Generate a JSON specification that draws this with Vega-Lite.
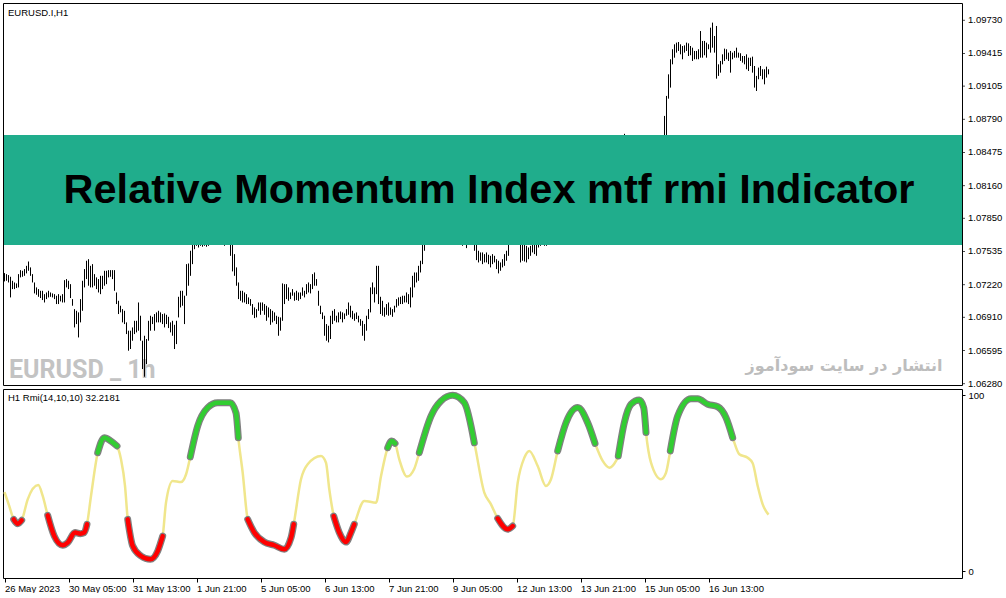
{
  "$schema": "https://vega.github.io/schema/vega-lite/v6.json",
  "background": "white",
  "padding": {"left": 2, "top": 2, "right": 0, "bottom": 0},
  "spacing": 4,
  "bounds": "flush",
  "config": {
    "view": {"stroke": "black", "strokeWidth": 1},
    "font": "Liberation Sans",
    "axis": {
      "labelFont": "Liberation Sans",
      "labelFontSize": 9.5,
      "labelColor": "black",
      "tickColor": "black",
      "domain": false,
      "grid": false,
      "title": null,
      "tickSize": 3,
      "labelPadding": 3,
      "labelOverlap": false
    }
  },
  "datasets": {
    "bars": [
      {"i":0,"h":1.0733,"l":1.07251},{"i":1,"h":1.0732,"l":1.07257},{"i":2,"h":1.07311,"l":1.07241},{"i":3,"h":1.07295,"l":1.07099},
      {"i":4,"h":1.07257,"l":1.07178},{"i":5,"h":1.07241,"l":1.07178},{"i":6,"h":1.07232,"l":1.07188},{"i":7,"h":1.0732,"l":1.07194},
      {"i":8,"h":1.07358,"l":1.07289},{"i":9,"h":1.07352,"l":1.07295},{"i":10,"h":1.07368,"l":1.07304},{"i":11,"h":1.07399,"l":1.07327},
      {"i":12,"h":1.0744,"l":1.07352},{"i":13,"h":1.07384,"l":1.07304},{"i":14,"h":1.0732,"l":1.07241},{"i":15,"h":1.07241,"l":1.07137},
      {"i":16,"h":1.07194,"l":1.07124},{"i":17,"h":1.07178,"l":1.07105},{"i":18,"h":1.07162,"l":1.07093},{"i":19,"h":1.07162,"l":1.07074},
      {"i":20,"h":1.0713,"l":1.07051},{"i":21,"h":1.07146,"l":1.07083},{"i":22,"h":1.07162,"l":1.07099},{"i":23,"h":1.07146,"l":1.07105},
      {"i":24,"h":1.07137,"l":1.07099},{"i":25,"h":1.0713,"l":1.07083},{"i":26,"h":1.07115,"l":1.07036},{"i":27,"h":1.0713,"l":1.07036},
      {"i":28,"h":1.07115,"l":1.07061},{"i":29,"h":1.0713,"l":1.07051},{"i":30,"h":1.07263,"l":1.07051},{"i":31,"h":1.07273,"l":1.07194},
      {"i":32,"h":1.07257,"l":1.07178},{"i":33,"h":1.07225,"l":1.07093},{"i":34,"h":1.07083,"l":1.0702},{"i":35,"h":1.06988,"l":1.06814},
      {"i":36,"h":1.06972,"l":1.06846},{"i":37,"h":1.06957,"l":1.06719},{"i":38,"h":1.07083,"l":1.06862},{"i":39,"h":1.07257,"l":1.06972},
      {"i":40,"h":1.07368,"l":1.07194},{"i":41,"h":1.07447,"l":1.07273},{"i":42,"h":1.07462,"l":1.0721},{"i":43,"h":1.07399,"l":1.07194},
      {"i":44,"h":1.07415,"l":1.07194},{"i":45,"h":1.0732,"l":1.0721},{"i":46,"h":1.07289,"l":1.07178},{"i":47,"h":1.07273,"l":1.07146},
      {"i":48,"h":1.07304,"l":1.0713},{"i":49,"h":1.07304,"l":1.07178},{"i":50,"h":1.07352,"l":1.0721},{"i":51,"h":1.07352,"l":1.07225},
      {"i":52,"h":1.07358,"l":1.07289},{"i":53,"h":1.07358,"l":1.07295},{"i":54,"h":1.07358,"l":1.07273},{"i":55,"h":1.07358,"l":1.07162},
      {"i":56,"h":1.07146,"l":1.07036},{"i":57,"h":1.07067,"l":1.06941},{"i":58,"h":1.0702,"l":1.06957},{"i":59,"h":1.06988,"l":1.06862},
      {"i":60,"h":1.06972,"l":1.06846},{"i":61,"h":1.06862,"l":1.06751},{"i":62,"h":1.06783,"l":1.06593},{"i":63,"h":1.06783,"l":1.06609},
      {"i":64,"h":1.06814,"l":1.06688},{"i":65,"h":1.06877,"l":1.06751},{"i":66,"h":1.06877,"l":1.06767},{"i":67,"h":1.07051,"l":1.06783},
      {"i":68,"h":1.06925,"l":1.06688},{"i":69,"h":1.06688,"l":1.06419},{"i":70,"h":1.06735,"l":1.06346},{"i":71,"h":1.06704,"l":1.06466},
      {"i":72,"h":1.06877,"l":1.06688},{"i":73,"h":1.06925,"l":1.06783},{"i":74,"h":1.06915,"l":1.06846},{"i":75,"h":1.06941,"l":1.06783},
      {"i":76,"h":1.06957,"l":1.06862},{"i":77,"h":1.06972,"l":1.06862},{"i":78,"h":1.06957,"l":1.06862},{"i":79,"h":1.06941,"l":1.06846},
      {"i":80,"h":1.06947,"l":1.06814},{"i":81,"h":1.06934,"l":1.06846},{"i":82,"h":1.06915,"l":1.06808},{"i":83,"h":1.06862,"l":1.06767},
      {"i":84,"h":1.06877,"l":1.06735},{"i":85,"h":1.06839,"l":1.06609},{"i":86,"h":1.06877,"l":1.06656},{"i":87,"h":1.07105,"l":1.06909},
      {"i":88,"h":1.07162,"l":1.07004},{"i":89,"h":1.07162,"l":1.0702},{"i":90,"h":1.07115,"l":1.06846},{"i":91,"h":1.07415,"l":1.07115},
      {"i":92,"h":1.07421,"l":1.0721},{"i":93,"h":1.07542,"l":1.07304},{"i":94,"h":1.07668,"l":1.07415},{"i":95,"h":1.077,"l":1.07557},
      {"i":96,"h":1.07731,"l":1.07589},{"i":97,"h":1.07716,"l":1.07573},{"i":98,"h":1.07731,"l":1.07589},{"i":99,"h":1.077,"l":1.0758},
      {"i":100,"h":1.07747,"l":1.07589},{"i":101,"h":1.07731,"l":1.0758},{"i":102,"h":1.07763,"l":1.07589},{"i":103,"h":1.07779,"l":1.07611},
      {"i":104,"h":1.07795,"l":1.07621},{"i":105,"h":1.0781,"l":1.07637},{"i":106,"h":1.07795,"l":1.07621},{"i":107,"h":1.07779,"l":1.07621},
      {"i":108,"h":1.07763,"l":1.07611},{"i":109,"h":1.07747,"l":1.07599},{"i":110,"h":1.07731,"l":1.07589},{"i":111,"h":1.07763,"l":1.07621},
      {"i":112,"h":1.07779,"l":1.07611},{"i":113,"h":1.07731,"l":1.07494},{"i":114,"h":1.07605,"l":1.07346},{"i":115,"h":1.0751,"l":1.07304},
      {"i":116,"h":1.07384,"l":1.0721},{"i":117,"h":1.07241,"l":1.07083},{"i":118,"h":1.07162,"l":1.07067},{"i":119,"h":1.07162,"l":1.07051},
      {"i":120,"h":1.07146,"l":1.07051},{"i":121,"h":1.0713,"l":1.07036},{"i":122,"h":1.07099,"l":1.07036},{"i":123,"h":1.07083,"l":1.0702},
      {"i":124,"h":1.07036,"l":1.06934},{"i":125,"h":1.07004,"l":1.06903},{"i":126,"h":1.06988,"l":1.06909},{"i":127,"h":1.07051,"l":1.06972},
      {"i":128,"h":1.07051,"l":1.06934},{"i":129,"h":1.07051,"l":1.06972},{"i":130,"h":1.07036,"l":1.06934},{"i":131,"h":1.0702,"l":1.06877},
      {"i":132,"h":1.07004,"l":1.06909},{"i":133,"h":1.06988,"l":1.06839},{"i":134,"h":1.06972,"l":1.06862},{"i":135,"h":1.06957,"l":1.06877},
      {"i":136,"h":1.06925,"l":1.06846},{"i":137,"h":1.06915,"l":1.06735},{"i":138,"h":1.06909,"l":1.06783},{"i":139,"h":1.07232,"l":1.06877},
      {"i":140,"h":1.07225,"l":1.07036},{"i":141,"h":1.07225,"l":1.07083},{"i":142,"h":1.07194,"l":1.07067},{"i":143,"h":1.07146,"l":1.07083},
      {"i":144,"h":1.07178,"l":1.07115},{"i":145,"h":1.07146,"l":1.07067},{"i":146,"h":1.07162,"l":1.07074},{"i":147,"h":1.07146,"l":1.07067},
      {"i":148,"h":1.07146,"l":1.07083},{"i":149,"h":1.07194,"l":1.07115},{"i":150,"h":1.07162,"l":1.07099},{"i":151,"h":1.07225,"l":1.0713},
      {"i":152,"h":1.07241,"l":1.07146},{"i":153,"h":1.07225,"l":1.07137},{"i":154,"h":1.0732,"l":1.07178},{"i":155,"h":1.07336,"l":1.0721},
      {"i":156,"h":1.07273,"l":1.0721},{"i":157,"h":1.07162,"l":1.0702},{"i":158,"h":1.0702,"l":1.06941},{"i":159,"h":1.06957,"l":1.06893},
      {"i":160,"h":1.06925,"l":1.06735},{"i":161,"h":1.06846,"l":1.06688},{"i":162,"h":1.0683,"l":1.06672},{"i":163,"h":1.06925,"l":1.06704},
      {"i":164,"h":1.06972,"l":1.06846},{"i":165,"h":1.06988,"l":1.06877},{"i":166,"h":1.06925,"l":1.06862},{"i":167,"h":1.06957,"l":1.06862},
      {"i":168,"h":1.06966,"l":1.06893},{"i":169,"h":1.06957,"l":1.06862},{"i":170,"h":1.06947,"l":1.06893},{"i":171,"h":1.06988,"l":1.06925},
      {"i":172,"h":1.07051,"l":1.06934},{"i":173,"h":1.0702,"l":1.06909},{"i":174,"h":1.06972,"l":1.06893},{"i":175,"h":1.06947,"l":1.06877},
      {"i":176,"h":1.06957,"l":1.06893},{"i":177,"h":1.06925,"l":1.06862},{"i":178,"h":1.06893,"l":1.0683},{"i":179,"h":1.06877,"l":1.06735},
      {"i":180,"h":1.06846,"l":1.06688},{"i":181,"h":1.06925,"l":1.06783},{"i":182,"h":1.06988,"l":1.06893},{"i":183,"h":1.07194,"l":1.06957},
      {"i":184,"h":1.07241,"l":1.0713},{"i":185,"h":1.07194,"l":1.07051},{"i":186,"h":1.07399,"l":1.0713},{"i":187,"h":1.07399,"l":1.07036},
      {"i":188,"h":1.07105,"l":1.06941},{"i":189,"h":1.07067,"l":1.06925},{"i":190,"h":1.07004,"l":1.06915},{"i":191,"h":1.07036,"l":1.06934},
      {"i":192,"h":1.07051,"l":1.06925},{"i":193,"h":1.07004,"l":1.06934},{"i":194,"h":1.06988,"l":1.06915},{"i":195,"h":1.0702,"l":1.06957},
      {"i":196,"h":1.07083,"l":1.07004},{"i":197,"h":1.07099,"l":1.0702},{"i":198,"h":1.07105,"l":1.07036},{"i":199,"h":1.07115,"l":1.07036},
      {"i":200,"h":1.07115,"l":1.07051},{"i":201,"h":1.07146,"l":1.07051},{"i":202,"h":1.0713,"l":1.07036},{"i":203,"h":1.07194,"l":1.07004},
      {"i":204,"h":1.07304,"l":1.07099},{"i":205,"h":1.07336,"l":1.07194},{"i":206,"h":1.07336,"l":1.07241},{"i":207,"h":1.07399,"l":1.07257},
      {"i":208,"h":1.07447,"l":1.07336},{"i":209,"h":1.07668,"l":1.07415},{"i":210,"h":1.07731,"l":1.07542},{"i":211,"h":1.0778,"l":1.0764},
      {"i":212,"h":1.0782,"l":1.077},{"i":213,"h":1.0785,"l":1.0774},{"i":214,"h":1.0788,"l":1.0776},{"i":215,"h":1.0791,"l":1.078},
      {"i":216,"h":1.0795,"l":1.0783},{"i":217,"h":1.0794,"l":1.0785},{"i":218,"h":1.0798,"l":1.0787},{"i":219,"h":1.0801,"l":1.079},
      {"i":220,"h":1.08,"l":1.0788},{"i":221,"h":1.0804,"l":1.0792},{"i":222,"h":1.0802,"l":1.0791},{"i":223,"h":1.0806,"l":1.0793},
      {"i":224,"h":1.0805,"l":1.079},{"i":225,"h":1.0801,"l":1.0784},{"i":226,"h":1.0795,"l":1.0776},{"i":227,"h":1.0788,"l":1.0768},
      {"i":228,"h":1.0782,"l":1.0764},{"i":229,"h":1.0776,"l":1.07589},{"i":230,"h":1.0772,"l":1.07599},{"i":231,"h":1.0774,"l":1.07567},
      {"i":232,"h":1.0778,"l":1.0764},{"i":233,"h":1.078,"l":1.0766},{"i":234,"h":1.0776,"l":1.0762},{"i":235,"h":1.0772,"l":1.07542},
      {"i":236,"h":1.0768,"l":1.07453},{"i":237,"h":1.07542,"l":1.07431},{"i":238,"h":1.07526,"l":1.07447},{"i":239,"h":1.07526,"l":1.07415},
      {"i":240,"h":1.0751,"l":1.07431},{"i":241,"h":1.07526,"l":1.07431},{"i":242,"h":1.07504,"l":1.07415},{"i":243,"h":1.07494,"l":1.07384},
      {"i":244,"h":1.0751,"l":1.07415},{"i":245,"h":1.07494,"l":1.07431},{"i":246,"h":1.07462,"l":1.07368},{"i":247,"h":1.07447,"l":1.07327},
      {"i":248,"h":1.07431,"l":1.07352},{"i":249,"h":1.07462,"l":1.07384},{"i":250,"h":1.0751,"l":1.07399},{"i":251,"h":1.07542,"l":1.07447},
      {"i":252,"h":1.0768,"l":1.07494},{"i":253,"h":1.0772,"l":1.0761},{"i":254,"h":1.0776,"l":1.0764},{"i":255,"h":1.0774,"l":1.0762},
      {"i":256,"h":1.0778,"l":1.0765},{"i":257,"h":1.0776,"l":1.0761},{"i":258,"h":1.077,"l":1.07431},{"i":259,"h":1.0769,"l":1.07447},
      {"i":260,"h":1.0768,"l":1.0744},{"i":261,"h":1.07589,"l":1.07431},{"i":262,"h":1.07573,"l":1.07462},{"i":263,"h":1.07589,"l":1.07494},
      {"i":264,"h":1.0766,"l":1.07526},{"i":265,"h":1.077,"l":1.0751},{"i":266,"h":1.0772,"l":1.07494},{"i":267,"h":1.0774,"l":1.07573},
      {"i":268,"h":1.0768,"l":1.07589},{"i":269,"h":1.0769,"l":1.07599},{"i":270,"h":1.077,"l":1.07589},{"i":271,"h":1.0771,"l":1.07589},
      {"i":272,"h":1.0772,"l":1.0762},{"i":273,"h":1.0775,"l":1.0764},{"i":274,"h":1.078,"l":1.0768},{"i":275,"h":1.0785,"l":1.0772},
      {"i":276,"h":1.079,"l":1.0778},{"i":277,"h":1.0796,"l":1.0784},{"i":278,"h":1.08,"l":1.0789},{"i":279,"h":1.0805,"l":1.0793},
      {"i":280,"h":1.0808,"l":1.0797},{"i":281,"h":1.0812,"l":1.08},{"i":282,"h":1.0815,"l":1.0804},{"i":283,"h":1.0814,"l":1.0805},
      {"i":284,"h":1.0818,"l":1.0807},{"i":285,"h":1.082,"l":1.0809},{"i":286,"h":1.0823,"l":1.0812},{"i":287,"h":1.0821,"l":1.081},
      {"i":288,"h":1.0819,"l":1.0808},{"i":289,"h":1.0815,"l":1.0804},{"i":290,"h":1.0812,"l":1.0801},{"i":291,"h":1.081,"l":1.0799},
      {"i":292,"h":1.0808,"l":1.0796},{"i":293,"h":1.0806,"l":1.0794},{"i":294,"h":1.0804,"l":1.0792},{"i":295,"h":1.0807,"l":1.0795},
      {"i":296,"h":1.0805,"l":1.0794},{"i":297,"h":1.0803,"l":1.0791},{"i":298,"h":1.0806,"l":1.0795},{"i":299,"h":1.0809,"l":1.0798},
      {"i":300,"h":1.0807,"l":1.0796},{"i":301,"h":1.081,"l":1.0799},{"i":302,"h":1.0813,"l":1.0802},{"i":303,"h":1.0818,"l":1.0806},
      {"i":304,"h":1.0823,"l":1.0811},{"i":305,"h":1.0829,"l":1.0816},{"i":306,"h":1.0835,"l":1.0822},{"i":307,"h":1.084,"l":1.0828},
      {"i":308,"h":1.0845,"l":1.0833},{"i":309,"h":1.085,"l":1.0838},{"i":310,"h":1.08652,"l":1.0842},{"i":311,"h":1.0856,"l":1.0844},
      {"i":312,"h":1.0858,"l":1.0847},{"i":313,"h":1.0856,"l":1.0845},{"i":314,"h":1.086,"l":1.0848},{"i":315,"h":1.0859,"l":1.0847},
      {"i":316,"h":1.0861,"l":1.0849},{"i":317,"h":1.0859,"l":1.0846},{"i":318,"h":1.0856,"l":1.0843},{"i":319,"h":1.0852,"l":1.0839},
      {"i":320,"h":1.0848,"l":1.0835},{"i":321,"h":1.0844,"l":1.0832},{"i":322,"h":1.084,"l":1.0829},{"i":323,"h":1.0838,"l":1.0826},
      {"i":324,"h":1.0835,"l":1.0824},{"i":325,"h":1.0833,"l":1.0822},{"i":326,"h":1.0836,"l":1.0825},{"i":327,"h":1.0834,"l":1.0823},
      {"i":328,"h":1.0838,"l":1.0826},{"i":329,"h":1.0842,"l":1.083},{"i":330,"h":1.08822,"l":1.0842},{"i":331,"h":1.09012,"l":1.0856},
      {"i":332,"h":1.09217,"l":1.08986},{"i":333,"h":1.0936,"l":1.09091},{"i":334,"h":1.09455,"l":1.09312},{"i":335,"h":1.09502,"l":1.09375},
      {"i":336,"h":1.09518,"l":1.09423},{"i":337,"h":1.09524,"l":1.09439},{"i":338,"h":1.09502,"l":1.09407},{"i":339,"h":1.09486,"l":1.0936},
      {"i":340,"h":1.09492,"l":1.09423},{"i":341,"h":1.09518,"l":1.09439},{"i":342,"h":1.09511,"l":1.09391},{"i":343,"h":1.09486,"l":1.09398},
      {"i":344,"h":1.0947,"l":1.09344},{"i":345,"h":1.09439,"l":1.0936},{"i":346,"h":1.09439,"l":1.0936},{"i":347,"h":1.09455,"l":1.0936},
      {"i":348,"h":1.09628,"l":1.09375},{"i":349,"h":1.09534,"l":1.09375},{"i":350,"h":1.09534,"l":1.09398},{"i":351,"h":1.09518,"l":1.09375},
      {"i":352,"h":1.09502,"l":1.09455},{"i":353,"h":1.0966,"l":1.09423},{"i":354,"h":1.09708,"l":1.0947},{"i":355,"h":1.09581,"l":1.09423},
      {"i":356,"h":1.09676,"l":1.09176},{"i":357,"h":1.09312,"l":1.09202},{"i":358,"h":1.09344,"l":1.09233},{"i":359,"h":1.09407,"l":1.09312},
      {"i":360,"h":1.09461,"l":1.09344},{"i":361,"h":1.09455,"l":1.0936},{"i":362,"h":1.09423,"l":1.09344},{"i":363,"h":1.09439,"l":1.09233},
      {"i":364,"h":1.09423,"l":1.0936},{"i":365,"h":1.09439,"l":1.09375},{"i":366,"h":1.0947,"l":1.09375},{"i":367,"h":1.09423,"l":1.09375},
      {"i":368,"h":1.09417,"l":1.09344},{"i":369,"h":1.09391,"l":1.09328},{"i":370,"h":1.09391,"l":1.09312},{"i":371,"h":1.09407,"l":1.09265},
      {"i":372,"h":1.09375,"l":1.09249},{"i":373,"h":1.09375,"l":1.09296},{"i":374,"h":1.09385,"l":1.09233},{"i":375,"h":1.09296,"l":1.09091},
      {"i":376,"h":1.09202,"l":1.09059},{"i":377,"h":1.09281,"l":1.0917},{"i":378,"h":1.09296,"l":1.09202},{"i":379,"h":1.09265,"l":1.0917},
      {"i":380,"h":1.09265,"l":1.09122},{"i":381,"h":1.0929,"l":1.09186},{"i":382,"h":1.09265,"l":1.09217}
    ],
    "rmi": [
      {"i":0,"v":45,"zone":"mid","seg":"m"},{"i":2.4,"v":37,"zone":"mid","seg":"m"},
      {"i":4.6,"v":29.5,"zone":"under","seg":"r1"},{"i":6.6,"v":27,"zone":"under","seg":"r1"},{"i":8.6,"v":29,"zone":"under","seg":"r1"},
      {"i":11.6,"v":40.9,"zone":"mid","seg":"m"},{"i":16.9,"v":49,"zone":"mid","seg":"m"},{"i":19.1,"v":42.8,"zone":"mid","seg":"m"},
      {"i":21.6,"v":31.8,"zone":"under","seg":"r2"},{"i":24.9,"v":20,"zone":"under","seg":"r2"},{"i":29.1,"v":14.8,"zone":"under","seg":"r2"},
      {"i":31.6,"v":16.3,"zone":"under","seg":"r2"},{"i":35.25,"v":22,"zone":"under","seg":"r2"},{"i":37.9,"v":21.4,"zone":"under","seg":"r2"},
      {"i":39.9,"v":22,"zone":"under","seg":"r2"},{"i":41.25,"v":26.7,"zone":"under","seg":"r2"},
      {"i":43.25,"v":42.8,"zone":"mid","seg":"m"},
      {"i":46.6,"v":67.4,"zone":"over","seg":"g1"},{"i":49.9,"v":75.9,"zone":"over","seg":"g1"},{"i":53.25,"v":74,"zone":"over","seg":"g1"},{"i":56.25,"v":71.2,"zone":"over","seg":"g1"},
      {"i":58.25,"v":63.6,"zone":"mid","seg":"m"},{"i":60.25,"v":48.5,"zone":"mid","seg":"m"},
      {"i":61.6,"v":29.5,"zone":"under","seg":"r3"},{"i":64.1,"v":14.4,"zone":"under","seg":"r3"},{"i":68.25,"v":8.7,"zone":"under","seg":"r3"},
      {"i":72.9,"v":6.8,"zone":"under","seg":"r3"},{"i":76.6,"v":11.5,"zone":"under","seg":"r3"},{"i":79.1,"v":20,"zone":"under","seg":"r3"},
      {"i":80.75,"v":39,"zone":"mid","seg":"m"},{"i":84.1,"v":51.3,"zone":"mid","seg":"m"},{"i":88.25,"v":50.7,"zone":"mid","seg":"m"},{"i":90.75,"v":55,"zone":"mid","seg":"m"},
      {"i":92.9,"v":65,"zone":"over","seg":"g2"},{"i":96.6,"v":82.6,"zone":"over","seg":"g2"},{"i":101.6,"v":93,"zone":"over","seg":"g2"},
      {"i":106.6,"v":95.8,"zone":"over","seg":"g2"},{"i":112.9,"v":95.8,"zone":"over","seg":"g2"},{"i":115.75,"v":90,"zone":"over","seg":"g2"},{"i":116.9,"v":75.9,"zone":"over","seg":"g2"},
      {"i":119.1,"v":56,"zone":"mid","seg":"m"},
      {"i":121.6,"v":29.5,"zone":"under","seg":"r4"},{"i":124.9,"v":22,"zone":"under","seg":"r4"},{"i":129.9,"v":16.6,"zone":"under","seg":"r4"},
      {"i":134.9,"v":14.8,"zone":"under","seg":"r4"},{"i":139.9,"v":12.5,"zone":"under","seg":"r4"},{"i":143.25,"v":19,"zone":"under","seg":"r4"},{"i":144.6,"v":26.7,"zone":"under","seg":"r4"},
      {"i":148.25,"v":52.3,"zone":"mid","seg":"m"},{"i":151.6,"v":60.8,"zone":"mid","seg":"m"},{"i":158.25,"v":65.5,"zone":"mid","seg":"m"},
      {"i":160.75,"v":61.7,"zone":"mid","seg":"m"},{"i":162.4,"v":46.6,"zone":"mid","seg":"m"},
      {"i":164.6,"v":31.4,"zone":"under","seg":"r5"},{"i":167.4,"v":22,"zone":"under","seg":"r5"},{"i":170.75,"v":16.6,"zone":"under","seg":"r5"},
      {"i":173.25,"v":22,"zone":"under","seg":"r5"},{"i":174.9,"v":26.7,"zone":"under","seg":"r5"},
      {"i":179.9,"v":40,"zone":"mid","seg":"m"},{"i":185.75,"v":39,"zone":"mid","seg":"m"},{"i":188.25,"v":54,"zone":"mid","seg":"m"},
      {"i":191.6,"v":70.2,"zone":"over","seg":"g3"},{"i":193.6,"v":74,"zone":"over","seg":"g3"},{"i":195.25,"v":72.7,"zone":"over","seg":"g3"},
      {"i":197.4,"v":63.6,"zone":"mid","seg":"m"},{"i":201.25,"v":53.8,"zone":"mid","seg":"m"},{"i":204.9,"v":58.3,"zone":"mid","seg":"m"},
      {"i":207.4,"v":67.4,"zone":"over","seg":"g4"},{"i":213.25,"v":88.2,"zone":"over","seg":"g4"},{"i":218.25,"v":96.8,"zone":"over","seg":"g4"},
      {"i":224.1,"v":100,"zone":"over","seg":"g4"},{"i":229.9,"v":95.8,"zone":"over","seg":"g4"},{"i":234.9,"v":73,"zone":"over","seg":"g4"},
      {"i":239.9,"v":44.7,"zone":"mid","seg":"m"},{"i":243.25,"v":38,"zone":"mid","seg":"m"},
      {"i":246.6,"v":30,"zone":"under","seg":"r6"},{"i":251.6,"v":23.9,"zone":"under","seg":"r6"},{"i":254.1,"v":25.7,"zone":"under","seg":"r6"},
      {"i":256.6,"v":50.3,"zone":"mid","seg":"m"},{"i":259.9,"v":64.5,"zone":"mid","seg":"m"},{"i":262.4,"v":68.4,"zone":"mid","seg":"m"},
      {"i":266.6,"v":59.8,"zone":"mid","seg":"m"},{"i":270.75,"v":48.5,"zone":"mid","seg":"m"},{"i":273.25,"v":52.3,"zone":"mid","seg":"m"},
      {"i":276.6,"v":68.4,"zone":"over","seg":"g5"},{"i":280.75,"v":84.4,"zone":"over","seg":"g5"},{"i":286.6,"v":93,"zone":"over","seg":"g5"},
      {"i":291.6,"v":84.4,"zone":"over","seg":"g5"},{"i":295.25,"v":72.7,"zone":"over","seg":"g5"},
      {"i":299.1,"v":62.7,"zone":"mid","seg":"m"},{"i":302.4,"v":58.9,"zone":"mid","seg":"m"},{"i":305.75,"v":62.7,"zone":"mid","seg":"m"},
      {"i":306.9,"v":65.5,"zone":"over","seg":"g6"},{"i":309.9,"v":84.4,"zone":"over","seg":"g6"},{"i":313.25,"v":94.9,"zone":"over","seg":"g6"},
      {"i":317.4,"v":97.3,"zone":"over","seg":"g6"},{"i":319.6,"v":93,"zone":"over","seg":"g6"},{"i":320.75,"v":78.8,"zone":"over","seg":"g6"},
      {"i":323.25,"v":61.7,"zone":"mid","seg":"m"},{"i":328.25,"v":52.3,"zone":"mid","seg":"m"},{"i":330.75,"v":56,"zone":"mid","seg":"m"},
      {"i":332.9,"v":68.4,"zone":"over","seg":"g7"},{"i":336.6,"v":88.2,"zone":"over","seg":"g7"},{"i":343.25,"v":98,"zone":"over","seg":"g7"},
      {"i":346.6,"v":98,"zone":"over","seg":"g7"},{"i":351.6,"v":94.9,"zone":"over","seg":"g7"},{"i":356.6,"v":93.5,"zone":"over","seg":"g7"},
      {"i":360.75,"v":87.3,"zone":"over","seg":"g7"},{"i":364.1,"v":75.9,"zone":"over","seg":"g7"},
      {"i":367.4,"v":66.5,"zone":"mid","seg":"m"},{"i":371.6,"v":64.5,"zone":"mid","seg":"m"},{"i":374.1,"v":61.4,"zone":"mid","seg":"m"},
      {"i":376.6,"v":48.5,"zone":"mid","seg":"m"},{"i":379.1,"v":38,"zone":"mid","seg":"m"},{"i":382,"v":32.2,"zone":"mid","seg":"m"}
    ],
    "priceTicks": [
      {"p":1.0628},{"p":1.06595},{"p":1.0691},{"p":1.0722},{"p":1.07535},{"p":1.0785},
      {"p":1.0816},{"p":1.08475},{"p":1.0879},{"p":1.09105},{"p":1.09415},{"p":1.0973}
    ]
  },
  "vconcat": [
    {
      "width": 959,
      "height": 382,
      "encoding": {
        "x": {"type": "quantitative", "scale": {"domain": [-0.75, 478.75], "nice": false, "zero": false}, "axis": null},
        "y": {"type": "quantitative", "scale": {"domain": [1.062675, 1.098942], "nice": false, "zero": false}, "axis": null}
      },
      "layer": [
        {
          "data": {"values": [{}]},
          "mark": {"type": "text", "text": "EURUSD _ 1h", "font": "Roboto", "fontWeight": "bold", "fontSize": 25, "color": "#C3C3C3", "align": "left", "baseline": "alphabetic"},
          "encoding": {"x": {"datum": 2.25}, "y": {"datum": 1.06334}}
        },
        {
          "data": {"values": [{}]},
          "mark": {"type": "text", "text": "انتشار در سایت سودآموز", "font": "DejaVu Sans", "fontWeight": "bold", "fontSize": 16, "color": "#BDBDBD", "align": "center", "baseline": "middle"},
          "encoding": {"x": {"datum": 419.75}, "y": {"datum": 1.06448}}
        },
        {
          "data": {"name": "bars"},
          "mark": {"type": "rule", "color": "black", "strokeWidth": 1},
          "encoding": {
            "x": {"field": "i"},
            "y": {"field": "l"},
            "y2": {"field": "h"}
          }
        },
        {
          "data": {"values": [{}]},
          "mark": {"type": "rect", "color": "#20AD8C"},
          "encoding": {
            "x": {"datum": -0.25},
            "x2": {"datum": 478.75},
            "y": {"datum": 1.07597},
            "y2": {"datum": 1.08641}
          }
        },
        {
          "data": {"values": [{}]},
          "mark": {"type": "text", "text": "Relative Momentum Index mtf rmi Indicator", "font": "Liberation Sans", "fontWeight": "bold", "fontSize": 41.5, "color": "black", "align": "center", "baseline": "alphabetic"},
          "encoding": {"x": {"datum": 242.25}, "y": {"datum": 1.08}}
        },
        {
          "data": {"values": [{}]},
          "mark": {"type": "text", "text": "EURUSD.I,H1", "font": "Liberation Sans", "fontSize": 9.5, "color": "black", "align": "left", "baseline": "middle"},
          "encoding": {"x": {"datum": 1.75}, "y": {"datum": 1.09804}}
        },
        {
          "data": {"name": "priceTicks"},
          "mark": {"type": "tick", "orient": "horizontal", "color": "black", "thickness": 1, "size": 3, "xOffset": 1.5, "clip": false},
          "encoding": {"x": {"datum": 478.75}, "y": {"field": "p"}}
        },
        {
          "data": {"name": "priceTicks"},
          "mark": {"type": "text", "font": "Liberation Sans", "fontSize": 9.5, "color": "black", "align": "left", "baseline": "middle", "dx": 6, "clip": false},
          "encoding": {"x": {"datum": 478.75}, "y": {"field": "p"}, "text": {"field": "p", "type": "quantitative", "format": ".5f"}}
        }
      ]
    },
    {
      "width": 959,
      "height": 189,
      "layer": [
        {
          "data": {"name": "rmi"},
          "mark": {"type": "line", "color": "#F0E68C", "strokeWidth": 2.5, "strokeJoin": "round", "interpolate": "monotone"},
          "encoding": {
            "x": {"field": "i", "type": "quantitative", "scale": {"domain": [-0.75, 478.75], "nice": false, "zero": false},
              "axis": {"orient": "bottom", "values": [0, 32, 64, 96, 128, 160, 192, 224, 256, 288, 320, 352],
                "labelExpr": "['26 May 2023','30 May 05:00','31 May 13:00','1 Jun 21:00','5 Jun 05:00','6 Jun 13:00','7 Jun 21:00','9 Jun 05:00','12 Jun 13:00','13 Jun 21:00','15 Jun 05:00','16 Jun 13:00'][round(datum.value / 32)]",
                "labelAlign": "left", "labelBaseline": "middle", "tickSize": 4, "labelPadding": 6, "labelFlush": false, "labelOverlap": false}},
            "y": {"field": "v", "type": "quantitative", "scale": {"domain": [-3.81, 103.58], "nice": false, "zero": false},
              "axis": {"orient": "right", "values": [0, 100], "labelOverlap": false}}
          }
        },
        {
          "data": {"name": "rmi"},
          "transform": [{"filter": "datum.zone != 'mid'"}],
          "mark": {"type": "line", "color": "#808080", "strokeWidth": 7, "strokeCap": "round", "strokeJoin": "round", "interpolate": "monotone"},
          "encoding": {
            "x": {"field": "i", "type": "quantitative"},
            "y": {"field": "v", "type": "quantitative"},
            "detail": {"field": "seg"}
          }
        },
        {
          "data": {"name": "rmi"},
          "transform": [{"filter": "datum.zone != 'mid'"}],
          "mark": {"type": "line", "strokeWidth": 4.5, "strokeCap": "round", "strokeJoin": "round", "interpolate": "monotone"},
          "encoding": {
            "x": {"field": "i", "type": "quantitative"},
            "y": {"field": "v", "type": "quantitative"},
            "detail": {"field": "seg"},
            "color": {"field": "zone", "type": "nominal", "scale": {"domain": ["over", "under"], "range": ["#32CD32", "#FF0000"]}, "legend": null}
          }
        },
        {
          "data": {"values": [{}]},
          "mark": {"type": "text", "text": "H1 Rmi(14,10,10) 32.2181", "font": "Liberation Sans", "fontSize": 9.5, "color": "black", "align": "left", "baseline": "middle"},
          "encoding": {"x": {"datum": 1.75, "type": "quantitative"}, "y": {"datum": 98.5, "type": "quantitative"}}
        }
      ]
    }
  ]
}
